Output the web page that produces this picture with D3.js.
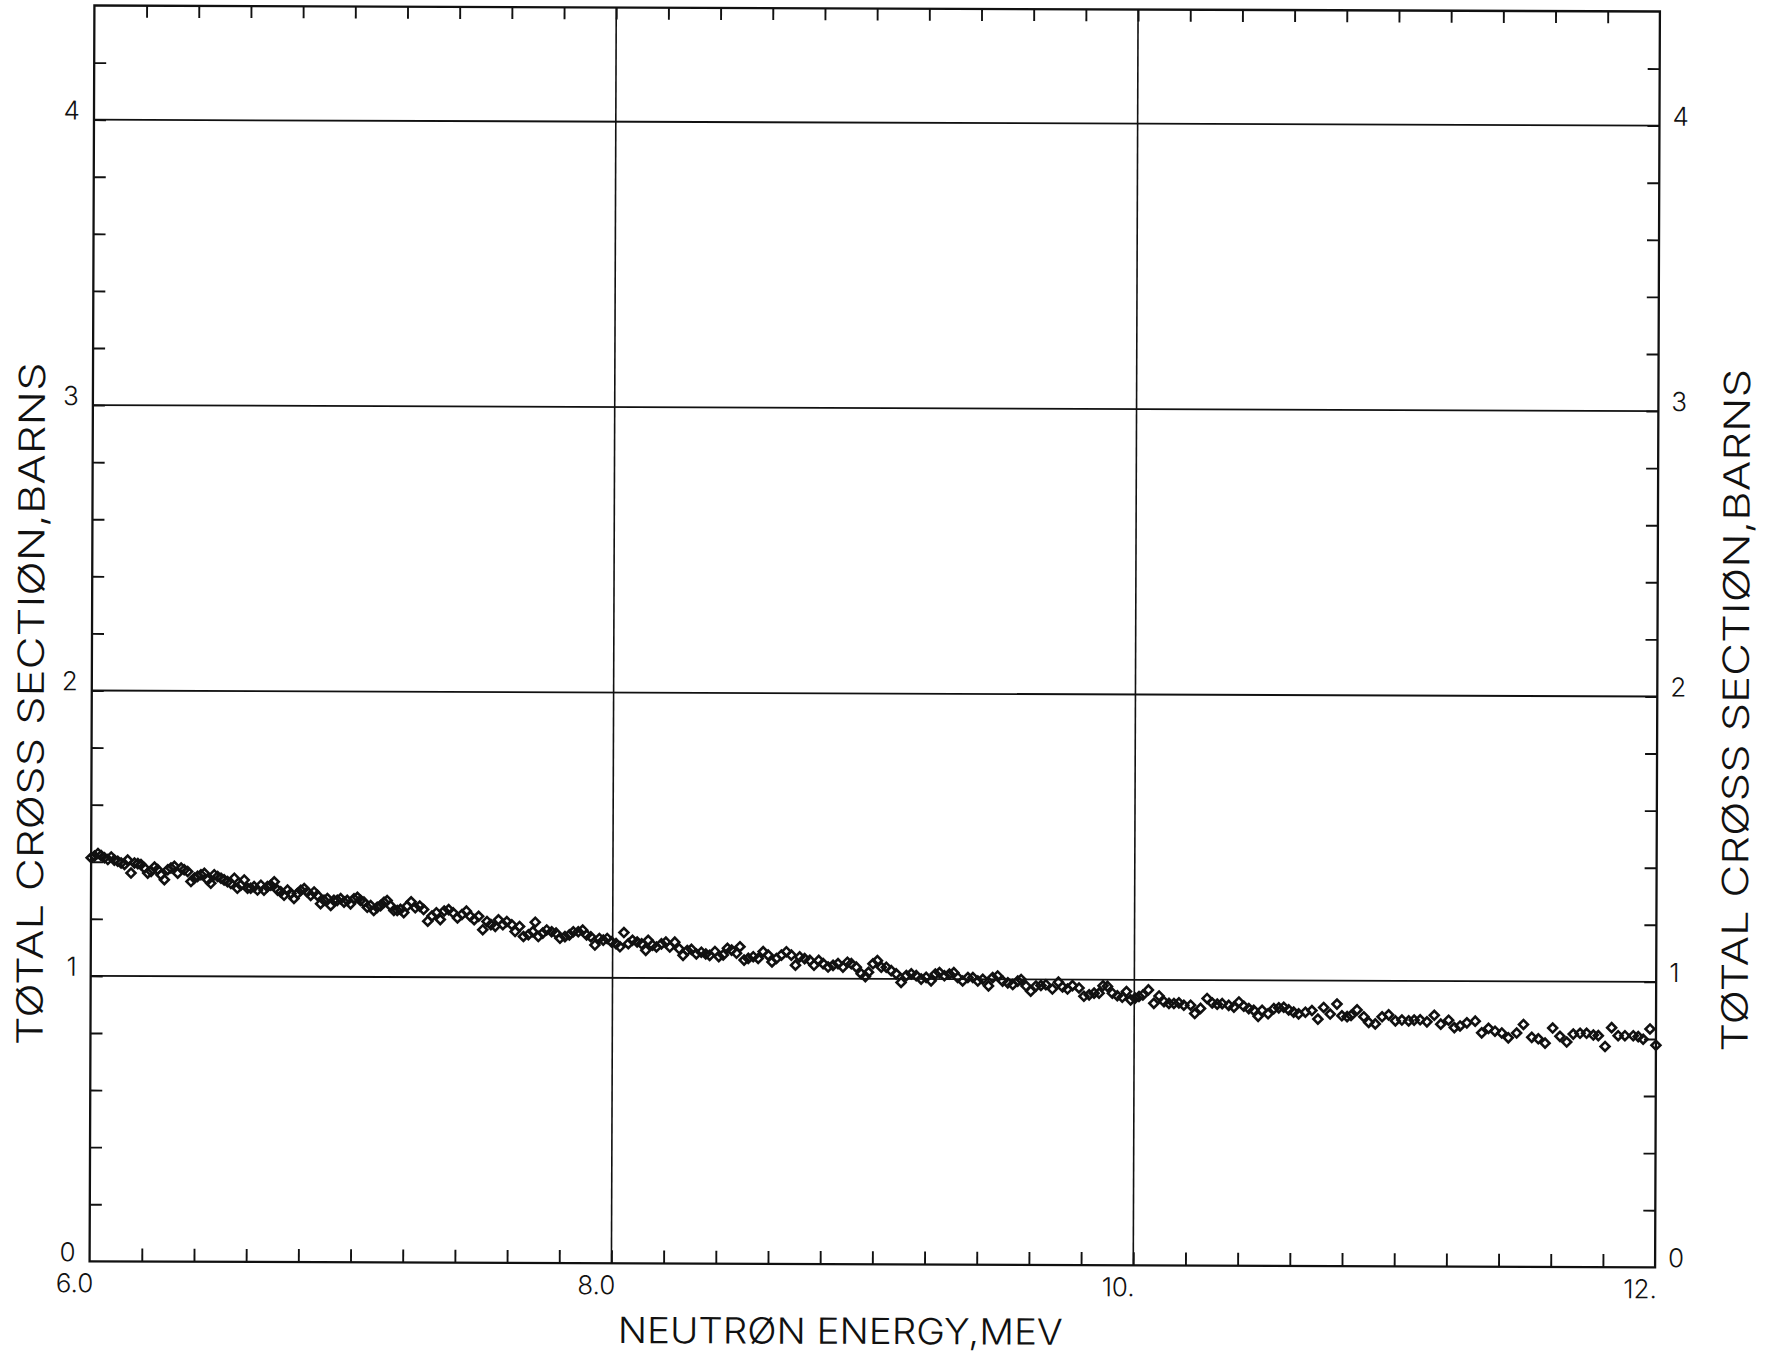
<!DOCTYPE html>
<html>
<head>
<meta charset="utf-8">
<script src="https://cdn.jsdelivr.net/npm/d3@7"></script>
<style>
  body { margin: 0; background: #fff; }
  svg { display: block; }
  text { font-family: Inter, "DejaVu Sans", sans-serif; font-weight: 300; fill: #111; }
</style>
</head>
<body>
<div id="chart"></div>
<script>
const xTickValues = [6, 8, 10, 12];
const xTickLabels = ["6.0", "8.0", "10.", "12."];
const yTickValues = [0, 1, 2, 3, 4];
const yTickLabels = ["0", "1", "2", "3", "4"];
const xTitle = "NEUTRØN ENERGY,MEV";
const yTitle = "TØTAL CRØSS SECTIØN,BARNS";

// energy (MeV) and total cross section (barns)
const energy = [
  6.000, 6.013, 6.026, 6.038, 6.051, 6.064, 6.077, 6.089, 6.102, 6.115, 6.128, 6.140, 6.153, 6.166, 6.179, 6.191,
  6.204, 6.217, 6.230, 6.243, 6.255, 6.268, 6.281, 6.294, 6.306, 6.319, 6.332, 6.345, 6.357, 6.370, 6.383, 6.396,
  6.408, 6.421, 6.434, 6.447, 6.459, 6.472, 6.485, 6.498, 6.510, 6.523, 6.536, 6.549, 6.561, 6.574, 6.587, 6.600,
  6.612, 6.625, 6.638, 6.651, 6.663, 6.676, 6.689, 6.702, 6.715, 6.727, 6.740, 6.753, 6.766, 6.778, 6.791, 6.804,
  6.817, 6.829, 6.842, 6.855, 6.868, 6.880, 6.893, 6.906, 6.919, 6.931, 6.944, 6.957, 6.970, 6.982, 6.995, 7.008,
  7.021, 7.033, 7.046, 7.059, 7.072, 7.084, 7.097, 7.110, 7.123, 7.135, 7.148, 7.161, 7.174,
  7.186, 7.199, 7.212, 7.227, 7.243, 7.260, 7.275, 7.291, 7.307, 7.324, 7.339, 7.354, 7.371, 7.388, 7.405, 7.422,
  7.439, 7.454, 7.469, 7.486, 7.502, 7.518, 7.533, 7.550, 7.562, 7.579, 7.594, 7.613, 7.626, 7.643, 7.658, 7.677,
  7.694, 7.703, 7.715, 7.732, 7.747, 7.766, 7.783, 7.798, 7.817, 7.834, 7.849, 7.868, 7.885, 7.900, 7.916, 7.932,
  7.949, 7.964, 7.979, 7.996, 8.013, 8.028, 8.043, 8.060, 8.076, 8.094, 8.111, 8.127, 8.136, 8.153, 8.168, 8.187,
  8.204, 8.219, 8.238, 8.255, 8.270, 8.286, 8.302, 8.321, 8.340, 8.357, 8.372,
  8.392, 8.407, 8.424, 8.440, 8.456, 8.475, 8.488, 8.504, 8.520, 8.539, 8.558, 8.577, 8.596, 8.611, 8.628, 8.647,
  8.666, 8.685, 8.701, 8.717, 8.736, 8.756, 8.772, 8.790, 8.807, 8.826, 8.845, 8.864, 8.883, 8.900, 8.915, 8.934,
  8.953, 8.969, 8.981, 8.998, 9.015, 9.030, 9.049, 9.068, 9.087, 9.106, 9.126, 9.145, 9.164, 9.183, 9.202, 9.221,
  9.237, 9.253, 9.272, 9.291, 9.308, 9.323, 9.342, 9.362, 9.381, 9.400, 9.419, 9.441, 9.457, 9.476, 9.495, 9.515,
  9.534, 9.553, 9.566, 9.585,
  9.603, 9.623, 9.642, 9.661, 9.686, 9.709, 9.725, 9.744, 9.763, 9.788, 9.807, 9.827, 9.846, 9.865, 9.880, 9.897,
  9.916, 9.935, 9.954, 9.970, 9.986, 10.003, 10.018, 10.033, 10.054, 10.075, 10.095, 10.114, 10.133, 10.152, 10.171, 10.190,
  10.216, 10.232, 10.254, 10.279, 10.299, 10.318, 10.337, 10.362, 10.382, 10.401, 10.420, 10.439, 10.458, 10.475, 10.490, 10.513,
  10.535, 10.554, 10.573, 10.592, 10.611, 10.630, 10.656, 10.681, 10.704, 10.726, 10.751, 10.777, 10.796,
  10.816, 10.831, 10.854, 10.880, 10.899, 10.924, 10.950, 10.975, 11.001, 11.026, 11.052, 11.073, 11.096, 11.122, 11.150, 11.175,
  11.205, 11.227, 11.249, 11.275, 11.307, 11.332, 11.358, 11.383, 11.409, 11.434, 11.466, 11.492, 11.524, 11.549, 11.575, 11.604,
  11.632, 11.658, 11.683, 11.709, 11.734, 11.760, 11.779, 11.805, 11.830, 11.855, 11.881, 11.913, 11.932, 11.951, 11.977, 12.000
];
const sigma = [
  1.414, 1.420, 1.429, 1.422, 1.414, 1.408, 1.417, 1.406, 1.402, 1.396, 1.391, 1.406, 1.361, 1.396, 1.394, 1.391,
  1.379, 1.361, 1.367, 1.382, 1.373, 1.355, 1.338, 1.373, 1.379, 1.385, 1.361, 1.379, 1.373, 1.367, 1.332, 1.344,
  1.350, 1.356, 1.361, 1.338, 1.326, 1.356, 1.350, 1.344, 1.338, 1.332, 1.326, 1.344, 1.309, 1.320, 1.338, 1.309,
  1.309, 1.315, 1.303, 1.320, 1.303, 1.315, 1.320, 1.332, 1.303, 1.297, 1.285, 1.303, 1.291, 1.274, 1.291, 1.303,
  1.309, 1.297, 1.285, 1.297, 1.285, 1.256, 1.268, 1.274, 1.250, 1.268, 1.268, 1.274, 1.262, 1.268, 1.256, 1.274,
  1.279, 1.268, 1.262, 1.244, 1.250, 1.233, 1.244, 1.250, 1.262, 1.268, 1.250, 1.233, 1.233,
  1.237, 1.226, 1.249, 1.264, 1.243, 1.249, 1.237, 1.196, 1.214, 1.226, 1.202, 1.232, 1.237, 1.226, 1.208, 1.220,
  1.232, 1.214, 1.202, 1.214, 1.167, 1.196, 1.185, 1.179, 1.202, 1.185, 1.196, 1.185, 1.161, 1.179, 1.144, 1.150,
  1.161, 1.194, 1.144, 1.156, 1.167, 1.161, 1.156, 1.138, 1.144, 1.150, 1.161, 1.161, 1.167, 1.150, 1.144, 1.115,
  1.138, 1.132, 1.138, 1.126, 1.120, 1.109, 1.159, 1.120, 1.132, 1.126, 1.120, 1.097, 1.132, 1.115, 1.109, 1.120,
  1.126, 1.109, 1.126, 1.103, 1.080, 1.097, 1.101, 1.085, 1.091, 1.085, 1.080,
  1.094, 1.076, 1.082, 1.105, 1.099, 1.088, 1.111, 1.064, 1.070, 1.076, 1.070, 1.094, 1.082, 1.058, 1.070, 1.082,
  1.094, 1.082, 1.047, 1.076, 1.070, 1.064, 1.047, 1.064, 1.053, 1.041, 1.047, 1.053, 1.041, 1.058, 1.053, 1.041,
  1.018, 1.008, 1.023, 1.053, 1.064, 1.041, 1.041, 1.029, 1.018, 0.988, 1.012, 1.018, 1.012, 1.000, 1.006, 0.994,
  1.018, 1.023, 1.012, 1.018, 1.023, 1.006, 0.994, 1.006, 1.006, 0.994, 1.000, 0.977, 1.006, 1.012, 0.994, 0.988,
  0.982, 0.994, 1.000, 0.977,
  0.959, 0.977, 0.979, 0.982, 0.967, 0.991, 0.974, 0.967, 0.979, 0.971, 0.942, 0.947, 0.953, 0.953, 0.979, 0.977,
  0.953, 0.944, 0.939, 0.959, 0.930, 0.936, 0.942, 0.947, 0.965, 0.918, 0.944, 0.924, 0.918, 0.918, 0.920, 0.912,
  0.912, 0.883, 0.901, 0.936, 0.920, 0.916, 0.918, 0.912, 0.906, 0.924, 0.909, 0.901, 0.895, 0.874, 0.895, 0.883,
  0.901, 0.904, 0.906, 0.897, 0.889, 0.883, 0.889, 0.895, 0.865, 0.906, 0.883, 0.918, 0.877,
  0.874, 0.878, 0.898, 0.874, 0.854, 0.849, 0.874, 0.881, 0.860, 0.863, 0.860, 0.863, 0.864, 0.857, 0.880, 0.849,
  0.863, 0.837, 0.843, 0.854, 0.860, 0.819, 0.835, 0.825, 0.819, 0.802, 0.819, 0.849, 0.804, 0.799, 0.784, 0.837,
  0.808, 0.788, 0.816, 0.819, 0.819, 0.813, 0.811, 0.773, 0.839, 0.811, 0.811, 0.811, 0.808, 0.799, 0.835, 0.778
];

const W = 1775, H = 1356;
const plot = {left: 92, right: 1657.5, top: 8.5, bottom: 1264.3};
const tilt = 0.22; // the scanned sheet sits a little skewed

const x = d3.scaleLinear().domain([6, 12]).range([plot.left, plot.right]);
const y = d3.scaleLinear().domain([0, 4.4]).range([plot.bottom, plot.top]);

const svg = d3.select("#chart").append("svg")
    .attr("width", W)
    .attr("height", H);

const cx = (plot.left + plot.right) / 2, cy = (plot.top + plot.bottom) / 2;
const g = svg.append("g")
    .attr("transform", `rotate(${tilt},${cx},${cy})`);

// grid lines at the labelled values
g.selectAll(".vgrid")
    .data([8, 10])
    .enter().append("line")
    .attr("x1", d => x(d)).attr("x2", d => x(d))
    .attr("y1", plot.top).attr("y2", plot.bottom)
    .attr("stroke", "#111").attr("stroke-width", 1.6);

g.selectAll(".hgrid")
    .data([1, 2, 3, 4])
    .enter().append("line")
    .attr("x1", plot.left).attr("x2", plot.right)
    .attr("y1", d => y(d)).attr("y2", d => y(d))
    .attr("stroke", "#111").attr("stroke-width", 1.8);

// minor ticks, inward on all four sides
const minorX = d3.range(31).map(i => 6 + i * 0.2).filter(v => v > 6.01 && v < 11.99);
const minorY = d3.range(23).map(i => i * 0.2).filter(v => v > 0.01 && v < 4.39);

function ticks(axis, shift) {
  const a = g.append("g").attr("transform", shift).call(axis);
  a.select(".domain").remove();
  a.selectAll("line").attr("stroke", "#111").attr("stroke-width", 1.9);
  a.selectAll("text").remove();
}
ticks(d3.axisBottom(x).tickValues(minorX).tickSize(-13), `translate(0,${plot.bottom})`);
ticks(d3.axisTop(x).tickValues(minorX).tickSize(-12), `translate(0,${plot.top})`);
ticks(d3.axisLeft(y).tickValues(minorY).tickSize(-12), `translate(${plot.left},0)`);
ticks(d3.axisRight(y).tickValues(minorY).tickSize(-12), `translate(${plot.right},0)`);

// frame
g.append("rect")
    .attr("x", plot.left).attr("y", plot.top)
    .attr("width", plot.right - plot.left).attr("height", plot.bottom - plot.top)
    .attr("fill", "none").attr("stroke", "#111").attr("stroke-width", 2.3);

// tick labels
g.selectAll(".xlab")
    .data(xTickValues)
    .enter().append("text")
    .attr("x", d => x(d) - 15)
    .attr("y", plot.bottom + 31)
    .attr("text-anchor", "middle")
    .attr("font-size", 26)
    .text((d, i) => xTickLabels[i]);

g.selectAll(".ylabL")
    .data(yTickValues)
    .enter().append("text")
    .attr("x", plot.left - 14)
    .attr("y", d => y(d))
    .attr("text-anchor", "end")
    .attr("font-size", 26)
    .text((d, i) => yTickLabels[i]);

g.selectAll(".ylabR")
    .data(yTickValues)
    .enter().append("text")
    .attr("x", plot.right + 13)
    .attr("y", d => y(d))
    .attr("font-size", 26)
    .text((d, i) => yTickLabels[i]);

// axis titles
g.append("text")
    .attr("x", 843).attr("y", 1344)
    .attr("text-anchor", "middle")
    .attr("font-size", 36)
    .attr("textLength", 445).attr("lengthAdjust", "spacingAndGlyphs")
    .text(xTitle);

[31, 1736].forEach(px => {
  g.append("text")
      .attr("transform", `translate(${px + 13},707) rotate(-90)`)
      .attr("text-anchor", "middle")
      .attr("font-size", 36)
      .attr("textLength", 683).attr("lengthAdjust", "spacingAndGlyphs")
      .text(yTitle);
});

// data points: small open diamonds
const pts = energy.map((e, i) => ({e, s: sigma[i]}));
const marker = d3.symbol().type(d3.symbolSquare).size(40);

g.selectAll(".pt")
    .data(pts)
    .enter().append("path")
    .attr("d", marker)
    .attr("transform", d => `translate(${x(d.e)},${y(d.s)}) rotate(45)`)
    .attr("fill", "none")
    .attr("stroke", "#111")
    .attr("stroke-width", 2.6);
</script>
</body>
</html>
